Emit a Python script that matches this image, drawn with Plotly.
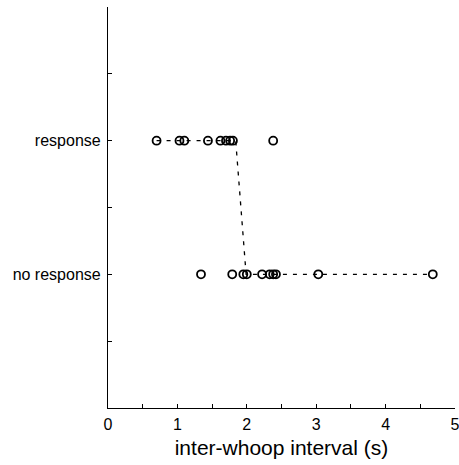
import plotly.graph_objects as go

categories = ["no response", "response"]
cat_pos = [2, 4]

response_x = [0.70, 1.03, 1.10, 1.44, 1.62, 1.70, 1.76, 1.80, 2.38]
no_response_x = [1.34, 1.79, 1.95, 2.00, 2.22, 2.33, 2.38, 2.42, 3.03, 4.68]

# dashed trend line: start/end x on each row
line_x = [0.70, 1.84, 1.99, 4.68]
line_cat = ["response", "response", "no response", "no response"]

ymap = dict(zip(categories, cat_pos))

fig = go.Figure()
fig.add_trace(go.Scatter(
    x=line_x, y=[ymap[c] for c in line_cat], mode="lines",
    line=dict(color="black", width=1.3, dash="4px,6px"), hoverinfo="skip"))
fig.add_trace(go.Scatter(
    x=response_x, y=[ymap["response"]] * len(response_x), mode="markers",
    marker=dict(symbol="circle-open", size=8, color="black", line=dict(width=1.8))))
fig.add_trace(go.Scatter(
    x=no_response_x, y=[ymap["no response"]] * len(no_response_x), mode="markers",
    marker=dict(symbol="circle-open", size=8, color="black", line=dict(width=1.8))))

font = "Liberation Sans, Arial, sans-serif"
fig.update_layout(
    width=459, height=465, showlegend=False,
    margin=dict(l=108, r=4, t=7, b=57, autoexpand=False),
    plot_bgcolor="white", paper_bgcolor="white",
    font=dict(family=font, color="black"),
    xaxis=dict(range=[0, 5], tickvals=[0, 1, 2, 3, 4, 5], ticks="inside", ticklen=4,
               tickcolor="black", showline=True, linecolor="black", linewidth=1.2,
               showgrid=False, zeroline=False, tickfont=dict(size=16),
               ticklabelstandoff=2, ticklabeloverflow="allow", automargin=False,
               minor=dict(tickvals=[0.5, 1.5, 2.5, 3.5, 4.5], ticks="inside", ticklen=4, tickcolor="black"),
               title=dict(text="inter-whoop interval (s)", font=dict(size=21), standoff=8)),
    yaxis=dict(range=[0, 6], tickvals=[1, 2, 3, 4, 5],
               ticktext=["", categories[0], "", categories[1], ""],
               ticks="inside", ticklen=4, tickcolor="black",
               showline=True, linecolor="black", linewidth=1.2,
               ticklabelstandoff=3, automargin=False,
               showgrid=False, zeroline=False, tickfont=dict(size=16)),
)
fig.write_html("out.html")
